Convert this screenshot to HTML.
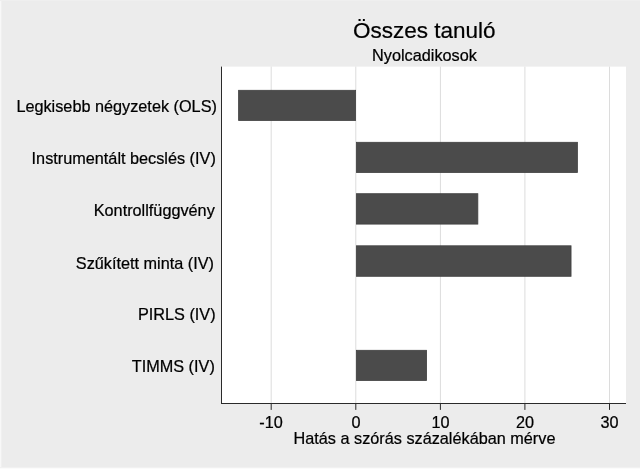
<!DOCTYPE html>
<html lang="hu">
<head>
<meta charset="utf-8">
<title>Összes tanuló</title>
<style>
html,body{margin:0;padding:0;background:#ececec;overflow:hidden}
svg{display:block}
text{font-family:"Liberation Sans",Arial,sans-serif;fill:#000;stroke:#000;stroke-width:0.22px}
</style>
</head>
<body>
<svg width="640" height="469" viewBox="0 0 640 469">
  <rect x="0" y="0" width="640" height="469" fill="#ececec"/>
  <rect x="0" y="0" width="1" height="469" fill="#f8f8f8"/>
  <rect x="1" y="0" width="1" height="469" fill="#f0f0f0"/>
  <rect x="0" y="0" width="640" height="1" fill="#efefef"/>
  <rect x="0" y="467" width="640" height="1" fill="#f1f1f1"/>
  <rect x="0" y="468" width="640" height="1" fill="#fbfbfb"/>
  <rect x="221" y="66.6" width="405" height="336.7" fill="#ffffff"/>
  <g stroke="#dcdcdc" stroke-width="1">
    <line x1="271.2" y1="66.6" x2="271.2" y2="403"/>
    <line x1="355.8" y1="66.6" x2="355.8" y2="403"/>
    <line x1="440.4" y1="66.6" x2="440.4" y2="403"/>
    <line x1="524.9" y1="66.6" x2="524.9" y2="403"/>
    <line x1="609.5" y1="66.6" x2="609.5" y2="403"/>
  </g>
  <g fill="#4b4b4b" stroke="#404040" stroke-width="0.8">
    <rect x="238.60" y="90.30" width="117.00" height="30.20"/>
    <rect x="356.40" y="142.30" width="221.00" height="30.20"/>
    <rect x="356.40" y="193.70" width="121.45" height="30.40"/>
    <rect x="356.40" y="245.80" width="214.65" height="30.50"/>
    <rect x="356.40" y="350.30" width="70.20" height="30.20"/>
  </g>
  <g stroke="#2a2a2a" stroke-width="1">
    <line x1="221.5" y1="66.6" x2="221.5" y2="404"/>
    <line x1="221" y1="403.5" x2="626" y2="403.5"/>
    <line x1="271.2" y1="404" x2="271.2" y2="409.9"/>
    <line x1="355.8" y1="404" x2="355.8" y2="409.9"/>
    <line x1="440.4" y1="404" x2="440.4" y2="409.9"/>
    <line x1="524.9" y1="404" x2="524.9" y2="409.9"/>
    <line x1="609.5" y1="404" x2="609.5" y2="409.9"/>
  </g>
  <text transform="translate(424.2 37.9) scale(1 1)" font-size="22.5" text-anchor="middle">Összes tanuló</text>
  <text transform="translate(424.5 60.75) scale(1.036 1)" font-size="15.7" text-anchor="middle">Nyolcadikosok</text>
  <text transform="translate(216.9 111.7) scale(1.036 1)" font-size="15.7" text-anchor="end">Legkisebb négyzetek (OLS)</text>
  <text transform="translate(215.8 163.9) scale(1.036 1)" font-size="15.7" text-anchor="end">Instrumentált becslés (IV)</text>
  <text transform="translate(214.8 215.6) scale(1.036 1)" font-size="15.7" text-anchor="end">Kontrollfüggvény</text>
  <text transform="translate(214.0 268.6) scale(1.036 1)" font-size="15.7" text-anchor="end">Szűkített minta (IV)</text>
  <text transform="translate(215.6 319.8) scale(1.036 1)" font-size="15.7" text-anchor="end">PIRLS (IV)</text>
  <text transform="translate(214.8 371.6) scale(1.036 1)" font-size="15.7" text-anchor="end">TIMMS (IV)</text>
  <text transform="translate(271.0 427.65) scale(1.036 1)" font-size="15.7" text-anchor="middle">-10</text>
  <text transform="translate(355.9 427.65) scale(1.036 1)" font-size="15.7" text-anchor="middle">0</text>
  <text transform="translate(440.6 427.65) scale(1.036 1)" font-size="15.7" text-anchor="middle">10</text>
  <text transform="translate(525 427.65) scale(1.036 1)" font-size="15.7" text-anchor="middle">20</text>
  <text transform="translate(609.6 427.65) scale(1.036 1)" font-size="15.7" text-anchor="middle">30</text>
  <text transform="translate(424.5 444.1) scale(1.036 1)" font-size="15.7" text-anchor="middle">Hatás a szórás százalékában mérve</text>
</svg>
</body>
</html>
